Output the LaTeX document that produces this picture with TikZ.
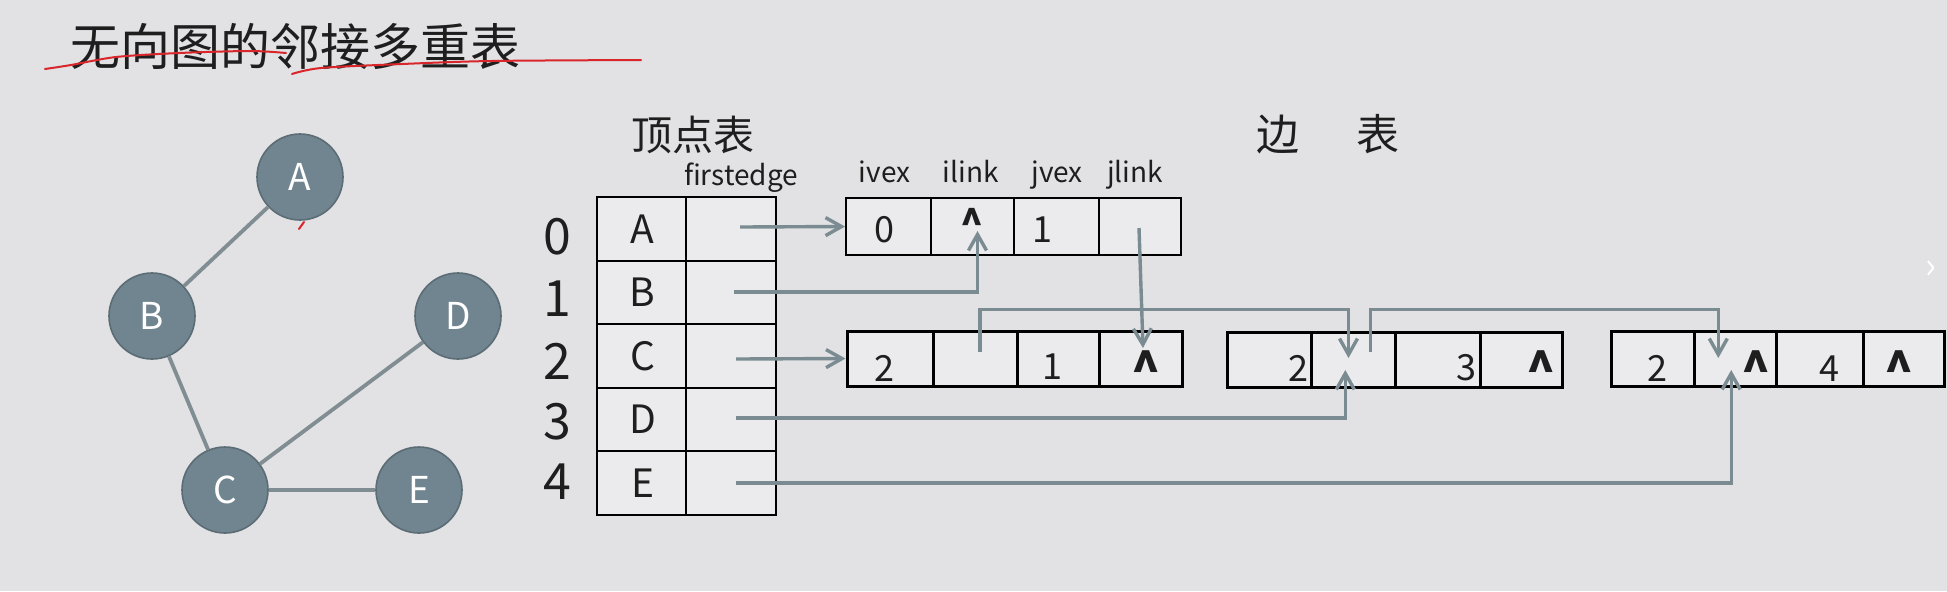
\documentclass[tikz,border=0pt]{standalone}
\usepackage{fontspec}
\setmainfont{Noto Sans CJK SC}
\usetikzlibrary{arrows.meta}
\definecolor{bg}{HTML}{E2E1E4}
\definecolor{cellfill}{HTML}{EBEAED}
\definecolor{vfill}{HTML}{718590}
\definecolor{vdraw}{HTML}{5B6C74}
\definecolor{conn}{HTML}{7A8B91}
\definecolor{gedge}{HTML}{808D92}
\definecolor{pen}{HTML}{D9262A}
\definecolor{ink}{HTML}{1E1E1E}
\begin{document}
\begin{tikzpicture}[x=0.5pt,y=-0.5pt,
  vert/.style={circle,fill=vfill,draw=vdraw,line width=0.8pt,minimum size=43pt,inner sep=0pt,
    text=white,font=\fontsize{18.5pt}{20pt}\selectfont},
  gline/.style={draw=gedge,line width=1.9pt},
  vcell/.style={draw=black,fill=cellfill,line width=1pt,inner sep=0pt,minimum height=31.75pt},
  ecellA/.style={draw=black,fill=cellfill,line width=1pt,inner sep=0pt,minimum height=28.5pt},
  ecellB/.style={draw=black,fill=cellfill,line width=1.5pt,inner sep=0pt,minimum height=27.5pt},
  txt/.style={inner sep=0pt,text=ink},
  idx/.style={txt,font=\fontsize{25pt}{27pt}\selectfont},
  let/.style={txt,font=\fontsize{19.5pt}{21pt}\selectfont},
  hdr/.style={txt,anchor=base,font=\fontsize{14pt}{16pt}\selectfont},
  num/.style={txt,font=\fontsize{18pt}{20pt}\selectfont},
  nul/.style={txt,font=\bfseries\fontsize{24pt}{26pt}\selectfont},
  link/.style={draw=conn,line width=1.7pt},
  arr/.style={link,-{Straight Barb[length=8pt,width=9pt,line width=1.7pt]}},
  redpen/.style={draw=pen,line width=1pt,line cap=round}
]
\fill[bg] (0,0) rectangle (1947,591);
\useasboundingbox (0,0) rectangle (1947,591);

% title
\node[txt,anchor=west,font=\fontsize{25pt}{28pt}\selectfont] (title) at (70,46) {无向图的邻接多重表};
\draw[redpen] plot[smooth] coordinates {(45,69) (71,65) (116,57) (179,53) (250,51) (286,53)};
\draw[redpen] plot[smooth] coordinates {(292,74) (321,68) (402,64) (491,61) (641,60)};

% graph
\node[vert] (A) at (300,177) {A};
\node[vert] (B) at (152,316) {B};
\node[vert] (D) at (458,316) {D};
\node[vert] (C) at (225,490) {C};
\node[vert] (E) at (419,490) {E};
\draw[gline] (A) -- (B);
\draw[gline] (B) -- (C);
\draw[gline] (C) -- (D);
\draw[gline] (C) -- (E);
\draw[redpen] (299,229) -- (304,222);

% headings
\node[txt,font=\fontsize{20.5pt}{23pt}\selectfont] (vhead) at (693,135) {顶点表};
\node[txt,font=\fontsize{21.5pt}{23pt}\selectfont] (ehead) at (1328,134) {边\hspace{28.5pt}表};
\node[hdr] (hfe) at (741,185) {firstedge};
\node[hdr] (hiv) at (884.6,182) {ivex};
\node[hdr] (hil) at (970.8,182) {ilink};
\node[hdr] (hjv) at (1057,182) {jvex};
\node[hdr] (hjl) at (1135,182) {jlink};

% vertex table
\foreach \r/\L/\y/\iy in {0/A/228.75/237,1/B/292.25/299,2/C/355.75/361,3/D/419.25/422,4/E/482.75/482}{
  \node[vcell,minimum width=44.7pt] (v\L) at (641.7,\y) {};
  \node[vcell,minimum width=44.8pt] (f\L) at (731.2,\y) {};
  \node[let] (t\L) at (642.5,\y) {\L};
  \node[idx] (i\r) at (557,\iy) {\r};
}

% edge node 1
\node[ecellA,minimum width=42.5pt] (e1a) at (888.5,226.5) {};
\node[ecellA,minimum width=41.5pt] (e1b) at (972.5,226.5) {};
\node[ecellA,minimum width=42.5pt] (e1c) at (1056.5,226.5) {};
\node[ecellA,minimum width=41pt] (e1d) at (1140,226.5) {};
\node[num] (n1a) at (884,230) {0};
\node[nul,font=\bfseries\fontsize{19pt}{20pt}\selectfont] (n1b) at (972,223) {\textasciicircum};
\node[num] (n1c) at (1042,230) {1};

% edge node 2
\node[ecellB,minimum width=43pt] (e2a) at (890,358.5) {};
\node[ecellB,minimum width=42pt] (e2b) at (975,358.5) {};
\node[ecellB,minimum width=41pt] (e2c) at (1058,358.5) {};
\node[ecellB,minimum width=41.5pt] (e2d) at (1140.5,358.5) {};
\node[num] (n2a) at (884,368) {2};
\node[num] (n2c) at (1052.5,367) {1};
\node[nul] (n2d) at (1146,369) {\textasciicircum};

% edge node 3
\node[ecellB,minimum width=42pt] (e3a) at (1269,359.5) {};
\node[ecellB,minimum width=42pt] (e3b) at (1353,359.5) {};
\node[ecellB,minimum width=42.5pt] (e3c) at (1437.5,359.5) {};
\node[ecellB,minimum width=41pt] (e3d) at (1521,359.5) {};
\node[num] (n3a) at (1298.6,368) {2};
\node[num] (n3c) at (1466.8,368) {3};
\node[nul] (n3d) at (1540.6,369) {\textasciicircum};

% edge node 4
\node[ecellB,minimum width=41.5pt] (e4a) at (1652.5,358.5) {};
\node[ecellB,minimum width=41.25pt] (e4b) at (1735.25,358.5) {};
\node[ecellB,minimum width=43.5pt] (e4c) at (1820,358.5) {};
\node[ecellB,minimum width=40.2pt] (e4d) at (1903.8,358.5) {};
\node[num] (n4a) at (1657,368) {2};
\node[nul] (n4b) at (1756.4,369) {\textasciicircum};
\node[num] (n4c) at (1829,369) {4};
\node[nul] (n4d) at (1899.4,369) {\textasciicircum};

% slide chevron
\node[txt,text=white,font=\fontsize{18pt}{20pt}\selectfont] (chev) at (1931,270) {›};

% connector end points
\coordinate (sA) at (740,227);
\coordinate (sB) at (734,292);
\coordinate (sC) at (736,359);
\coordinate (sD) at (736,418);
\coordinate (sE) at (736,483);
\coordinate (tB) at (977.5,231);
\coordinate (s1d) at (1139,228);
\coordinate (t1d) at (1143,348);
\coordinate (s2b) at (980,352);
\coordinate (t3down) at (1348.5,358);
\coordinate (t3up) at (1345.3,370);
\coordinate (s3b) at (1370.6,352);
\coordinate (t4down) at (1718.3,358);
\coordinate (t4up) at (1731.2,370);

% connectors
\draw[arr] (sA) -- (e1a.west);
\draw[arr] (sB) -| (tB);
\draw[arr] (s1d) -- (t1d);
\draw[arr] (sC) -- (e2a.west);
\draw[arr] (s2b) -- (980,309.3) -| (t3down);
\draw[arr] (sD) -| (t3up);
\draw[arr] (s3b) -- (1370.6,309.3) -| (t4down);
\draw[arr] (sE) -| (t4up);
\end{tikzpicture}
\end{document}
